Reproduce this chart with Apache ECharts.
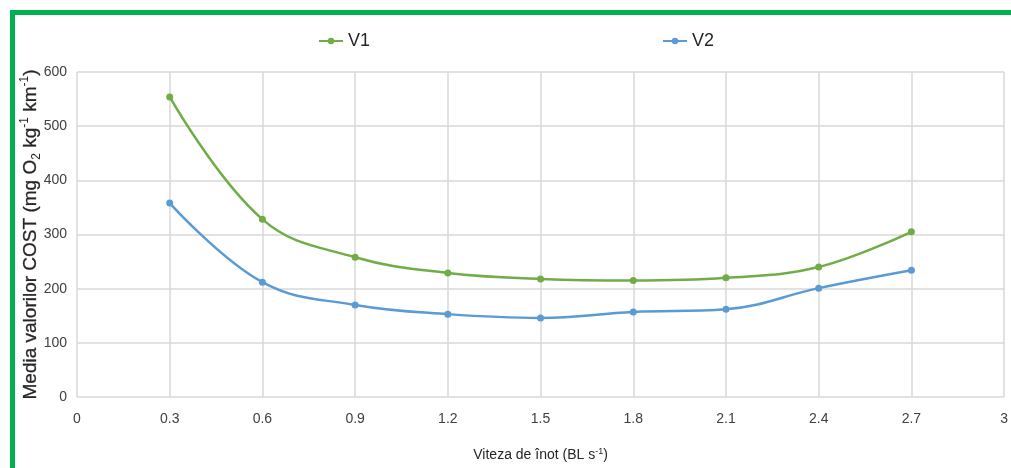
<!DOCTYPE html>
<html><head><meta charset="utf-8">
<script src="https://cdn.jsdelivr.net/npm/echarts@6/dist/echarts.min.js"></script>
<style>html,body{margin:0;padding:0;background:#fff}#c{width:1011px;height:468px}</style>
</head><body><div id="c"></div>
<script>
const xValues = [0.3, 0.6, 0.9, 1.2, 1.5, 1.8, 2.1, 2.4, 2.7];
const v1 = [554, 328, 258, 229, 218, 215, 220, 240, 305];
const v2 = [358, 212, 170, 153, 146, 157, 162, 201, 234];
const seriesNames = ['V1', 'V2'];
const FONT = "'Liberation Sans', Arial, sans-serif";
const chart = echarts.init(document.getElementById('c'));
const pair = (arr) => xValues.map((x, i) => [x, arr[i]]);
chart.setOption({
  backgroundColor: '#fff',
  animation: false,
  graphic: [
    {type: 'rect', shape: {x: 10, y: 10, width: 1001, height: 5}, style: {fill: '#00b050'}},
    {type: 'rect', shape: {x: 10, y: 10, width: 5, height: 458}, style: {fill: '#00b050'}}
  ],
  legend: {
    data: seriesNames,
    top: 27, left: 313,
    itemGap: 292,
    itemWidth: 24, itemHeight: 8,
    textStyle: {fontFamily: FONT, fontSize: 18, color: '#262626'}
  },
  grid: {left: 77, right: 5, top: 72, bottom: 71},
  xAxis: {
    type: 'value', min: 0, max: 3, interval: 0.3,
    name: 'Viteza de înot (BL s{sup|-1})',
    nameLocation: 'middle', nameGap: 50,
    nameTextStyle: {fontFamily: FONT, fontSize: 14, color: '#262626',
      rich: {sup: {fontSize: 9, verticalAlign: 'top', fontFamily: FONT, color: '#262626', padding: [0,0,8,0]}}},
    axisLine: {show: false},
    axisTick: {show: false},
    splitLine: {show: true, lineStyle: {color: '#d9d9d9', width: 1.5}},
    axisLabel: {fontFamily: FONT, fontSize: 14, color: '#404040', margin: 15}
  },
  yAxis: {
    type: 'value', min: 0, max: 600, interval: 100,
    name: '{a|Media valorilor COST (mg O}{sub|2}{a| kg}{sup|-1}{a| km}{sup|-1}{a|)}',
    nameLocation: 'middle', nameGap: 34, nameRotate: 90, nameMoveOverlap: false,
    nameTextStyle: {
      rich: {
        a: {fontFamily: FONT, fontSize: 19, color: '#262626', lineHeight: 24, textBorderColor: '#262626', textBorderWidth: 0.3},
        sub: {fontFamily: FONT, fontSize: 12, color: '#262626', verticalAlign: 'bottom', lineHeight: 24, padding: [6,0,0,0]},
        sup: {fontFamily: FONT, fontSize: 12, color: '#262626', verticalAlign: 'top', lineHeight: 24, padding: [0,0,9,0]}
      }
    },
    axisLine: {show: false},
    axisTick: {show: false},
    splitLine: {show: true, lineStyle: {color: '#d9d9d9', width: 1.5}},
    axisLabel: {fontFamily: FONT, fontSize: 14, color: '#404040', margin: 10}
  },
  series: [
    {name: seriesNames[0], type: 'line', smooth: 0.4, data: pair(v1),
     symbol: 'circle', symbolSize: 7,
     itemStyle: {color: '#70ad47'}, lineStyle: {color: '#70ad47', width: 2.5}},
    {name: seriesNames[1], type: 'line', smooth: 0.4, data: pair(v2),
     symbol: 'circle', symbolSize: 7,
     itemStyle: {color: '#5b9bd5'}, lineStyle: {color: '#5b9bd5', width: 2.5}}
  ]
});
</script></body></html>
